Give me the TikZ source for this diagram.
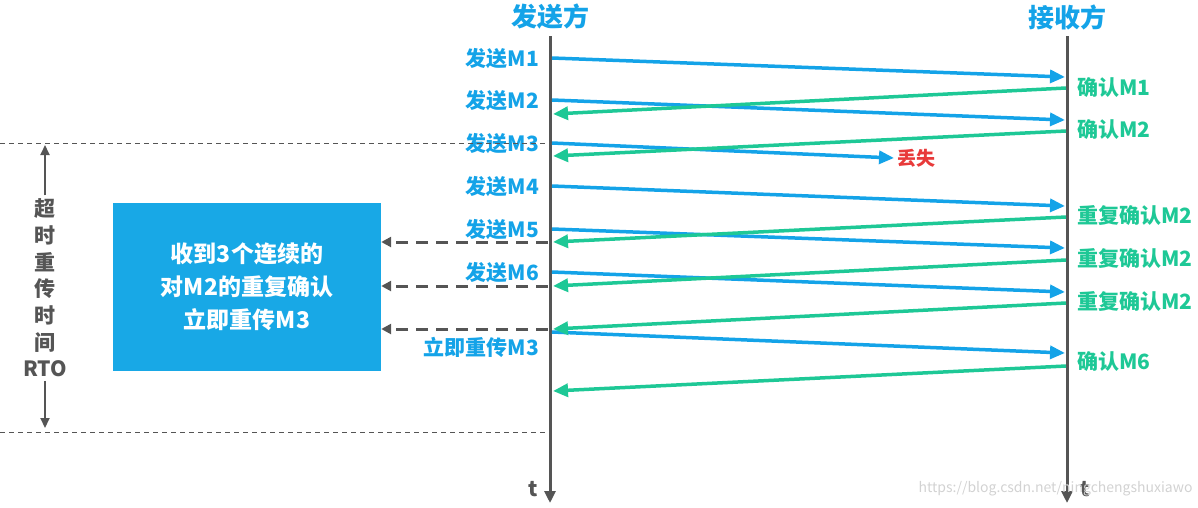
\documentclass[tikz,border=0pt]{standalone}
\usepackage{fontspec}
\setmainfont{Noto Sans CJK SC}
\usetikzlibrary{arrows.meta,positioning,calc}
\definecolor{sndblue}{RGB}{20,163,232}
\definecolor{ackgreen}{RGB}{30,200,150}
\definecolor{lostred}{RGB}{232,58,58}
\definecolor{linegray}{RGB}{85,85,85}
\definecolor{boxblue}{RGB}{24,168,230}

\begin{document}
\begin{tikzpicture}[
  x=1pt, y=-1pt,
  font=\bfseries,
  lifeline/.style={draw=linegray, line width=3pt, -{Triangle[length=12pt,width=11pt]}},
  msg/.style={line width=3.5pt, -{Triangle[length=15pt,width=13pt]}},
  msgblue/.style={msg, draw=sndblue, fill=sndblue},
  msggreen/.style={msg, draw=ackgreen, fill=ackgreen},
  dashmsg/.style={draw=linegray, line width=3pt, dash pattern=on 12pt off 8pt,
                  -{Triangle[length=10pt,width=10pt]}},
  rtoline/.style={draw=linegray, line width=1pt, dash pattern=on 5pt off 4pt},
  rtoarrow/.style={draw=linegray, line width=2pt, -{Triangle[length=10pt,width=9pt]}},
  head/.style={text=sndblue, font=\fontsize{26}{28}\selectfont\bfseries},
  sndlbl/.style={anchor=east, inner sep=0pt, text=sndblue, font=\fontsize{21}{23}\selectfont\bfseries},
  acklbl/.style={anchor=west, inner sep=0pt, text=ackgreen, font=\fontsize{21}{23}\selectfont\bfseries},
  rtobox/.style={fill=boxblue, minimum width=268pt, minimum height=168pt, align=center,
                 text=white, font=\fontsize{23}{33}\selectfont\bfseries}
]
\useasboundingbox (0,0) rectangle (1198,507);

% ---- X positions ----
\def\xS{550}   % sender
\def\xR{1067}  % receiver

% ---- Headers and lifelines ----
\node[head] (snd) at (\xS, 17) {发送方};
\node[head] (rcv) at (\xR, 17) {接收方};
\coordinate (sEnd) at (\xS, 503);
\coordinate (rEnd) at (\xR, 503);
\draw[lifeline] (\xS, 36) -- (sEnd);
\draw[lifeline] (\xR, 36) -- (rEnd);
\node[text=linegray, font=\fontsize{21}{23}\selectfont\bfseries] (ts) at (533, 489) {t};
\node[text=linegray, font=\fontsize{21}{23}\selectfont\bfseries] (tr) at (1085, 489) {t};

% ---- Sender -> receiver ----
\foreach \n/\ya/\yb/\lbl in {1/58/77/发送M1, 2/100/120/发送M2, 4/186/206/发送M4,
                             5/229/248/发送M5, 6/272/292/发送M6} {
  \coordinate (s\n) at (\xS+2, \ya);
  \coordinate (r\n) at (\xR-2, \yb);
  \draw[msgblue] (s\n) -- (r\n);
  \node[sndlbl] (ls\n) at (539, \ya+1) {\lbl};
}

% M3 gets lost
\coordinate (s3) at (\xS+2, 143);
\node[sndlbl] (ls3) at (539, 144) {发送M3};
\node[anchor=west, inner sep=0pt, text=lostred, font=\fontsize{19}{21}\selectfont\bfseries]
  (lost) at (897, 158) {丢失};
\draw[msgblue] (s3) -- ([xshift=-3pt]lost.west);

% fast retransmit
\coordinate (s7) at (\xS+2, 332);
\coordinate (r7) at (\xR-2, 353);
\draw[msgblue] (s7) -- (r7);
\node[sndlbl] (ls7) at (539, 347) {立即重传M3};

% ---- Receiver -> sender ----
\foreach \n/\ya/\yb/\lbl in {1/88/114/确认M1, 2/131/156/确认M2, 3/217/242/重复确认M2,
                             4/260/286/重复确认M2, 5/303/329/重复确认M2, 6/366/391/确认M6} {
  \coordinate (ga\n) at (\xR-1, \ya);
  \coordinate (gb\n) at (\xS+3, \yb);
  \draw[msggreen] (ga\n) -- (gb\n);
}
\node[acklbl] (la1) at (1077, 88) {确认M1};
\node[acklbl] (la2) at (1077, 130) {确认M2};
\node[acklbl] (la3) at (1077, 216) {重复确认M2};
\node[acklbl] (la4) at (1077, 259) {重复确认M2};
\node[acklbl] (la5) at (1077, 302) {重复确认M2};
\node[acklbl] (la6) at (1077, 362) {确认M6};

% ---- Three duplicate ACKs ----
\node[rtobox] (box) at (247, 287) {收到3个连续的\\对M2的重复确认\\立即重传M3};
\foreach \n in {3,4,5}
  \draw[dashmsg] (\xS-2, 0 |- gb\n) -- (box.east |- gb\n);

% ---- RTO ----
\coordinate (topL) at (0, 143);
\coordinate (botL) at (0, 432);
\draw[rtoline] (topL) -- (\xS, 143);
\draw[rtoline] (botL) -- (\xS-2, 432);
\node[align=center, text=linegray, font=\fontsize{21}{26.7}\selectfont\bfseries]
  (rto) at (45, 288) {超\\时\\重\\传\\时\\间\\RTO};
\draw[rtoarrow] (rto.north) -- (rto.north |- 0,145);
\draw[rtoarrow] (rto.south) -- (rto.south |- 0,428);

% watermark
\node[anchor=east, text=gray!35, font=\fontsize{14}{16}\selectfont\mdseries] (wm) at (1196, 489)
  {https://blog.csdn.net/ningchengshuxiawo};

\end{tikzpicture}
\end{document}
